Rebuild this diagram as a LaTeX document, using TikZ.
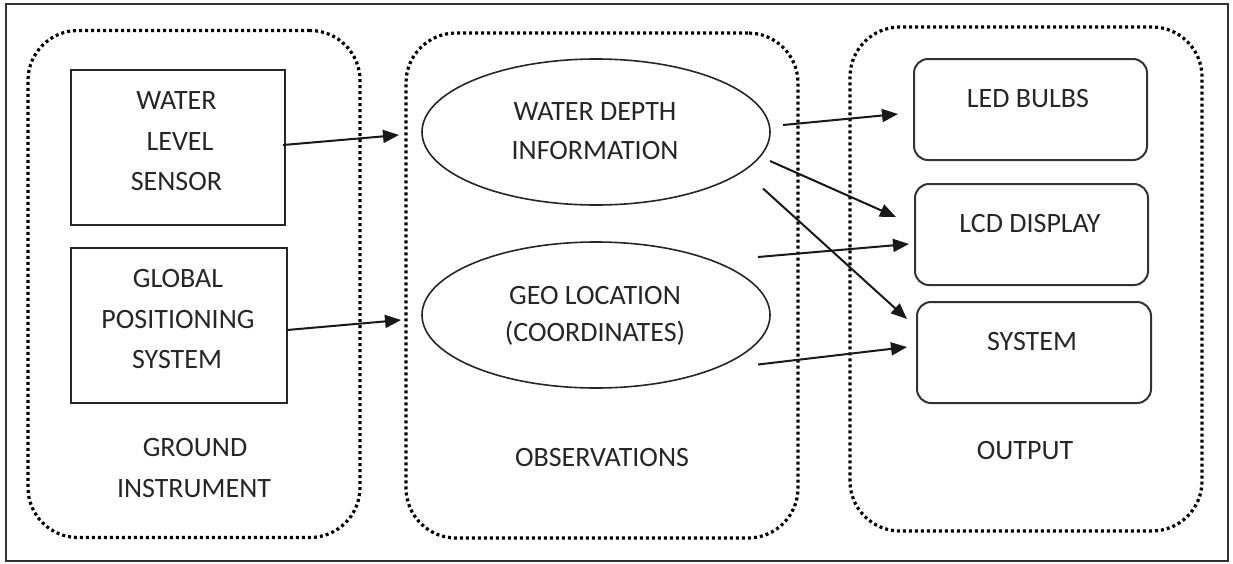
\documentclass[tikz,border=0pt]{standalone}
\usepackage{fontspec}
\setmainfont{Carlito}
\usetikzlibrary{shapes.geometric,arrows.meta}
\tikzset{
  lbl/.style={anchor=base, inner sep=0pt, font=\fontsize{28}{40}\selectfont, text=black!85},
  group/.style={draw=black, line width=3.2pt, dash pattern=on 3pt off 3pt, rounded corners=50pt},
  sqbox/.style={draw=black!85, line width=2pt, rectangle, inner sep=0pt},
  rbox/.style={draw=black!80, line width=2pt, rectangle, rounded corners=14pt, inner sep=0pt},
  ell/.style={draw=black!85, line width=1.6pt, ellipse, inner sep=0pt},
  arr/.style={draw=black!90, line width=2pt, -{Triangle[length=16pt,width=13pt]}},
}
\begin{document}
\begin{tikzpicture}[x=1pt,y=-1pt]
\useasboundingbox (0,0) rectangle (1233,563);
\fill[white] (0,0) rectangle (1233,563);
% outer frame
\node[draw=black!80, line width=2pt, rectangle, inner sep=0pt, minimum width=1222pt, minimum height=557pt] (frame) at (617,282.5) {};
% groups
\node[group, rectangle, inner sep=0pt, minimum width=332pt, minimum height=507pt] (g1) at (194,284) {};
\node[group, rectangle, inner sep=0pt, minimum width=392pt, minimum height=505pt] (g2) at (602,285.5) {};
\node[group, rectangle, inner sep=0pt, minimum width=352pt, minimum height=504pt] (g3) at (1026,279) {};
% left boxes
\node[sqbox, minimum width=214pt, minimum height=155pt] (wls) at (177.5,147.5) {};
\node[sqbox, minimum width=216pt, minimum height=155pt] (gps) at (178.5,325.5) {};
\node[lbl] (wls1) at (176.5,109.5) {WATER};
\node[lbl] (wls2) at (180,150) {LEVEL};
\node[lbl] (wls3) at (176.5,190) {SENSOR};
\node[lbl] (gps1) at (178,287.5) {GLOBAL};
\node[lbl] (gps2) at (178,328) {POSITIONING};
\node[lbl] (gps3) at (177,368.5) {SYSTEM};
\node[lbl] (gi1) at (195,456) {GROUND};
\node[lbl] (gi2) at (194,497) {INSTRUMENT};
% ellipses
\node[ell, minimum width=348pt, minimum height=146pt] (wdi) at (596,132) {};
\node[ell, minimum width=348pt, minimum height=146pt] (geo) at (596,315) {};
\node[lbl] (wdi1) at (595,120) {WATER DEPTH};
\node[lbl] (wdi2) at (595,159) {INFORMATION};
\node[lbl] (geo1) at (595,304.5) {GEO LOCATION};
\node[lbl] (geo2) at (595,341) {(COORDINATES)};
\node[lbl] (obs) at (602,466) {OBSERVATIONS};
% output boxes
\node[rbox, minimum width=233pt, minimum height=101pt] (led) at (1030.5,109.5) {};
\node[rbox, minimum width=233pt, minimum height=101pt] (lcd) at (1031.5,234.5) {};
\node[rbox, minimum width=234pt, minimum height=101pt] (sys) at (1034,352.5) {};
\node[lbl] (led1) at (1028,107) {LED BULBS};
\node[lbl] (lcd1) at (1030,232.5) {LCD DISPLAY};
\node[lbl] (sys1) at (1032,350) {SYSTEM};
\node[lbl] (out) at (1025,459.5) {OUTPUT};
% arrow end points
\coordinate (a1s) at (283,145);   \coordinate (a1e) at (399,135);
\coordinate (a2s) at (287,330);   \coordinate (a2e) at (401,320);
\coordinate (a3s) at (783,125);   \coordinate (a3e) at (898,114);
\coordinate (a4s) at (770,161);   \coordinate (a4e) at (896,217);
\coordinate (a5s) at (763,188.5); \coordinate (a5e) at (907,319);
\coordinate (a6s) at (758,257);   \coordinate (a6e) at (909,244);
\coordinate (a7s) at (758,364.5); \coordinate (a7e) at (907,347);
\draw[arr] (a1s) -- (a1e);
\draw[arr] (a2s) -- (a2e);
\draw[arr] (a3s) -- (a3e);
\draw[arr] (a4s) -- (a4e);
\draw[arr] (a5s) -- (a5e);
\draw[arr] (a6s) -- (a6e);
\draw[arr] (a7s) -- (a7e);
\end{tikzpicture}
\end{document}
